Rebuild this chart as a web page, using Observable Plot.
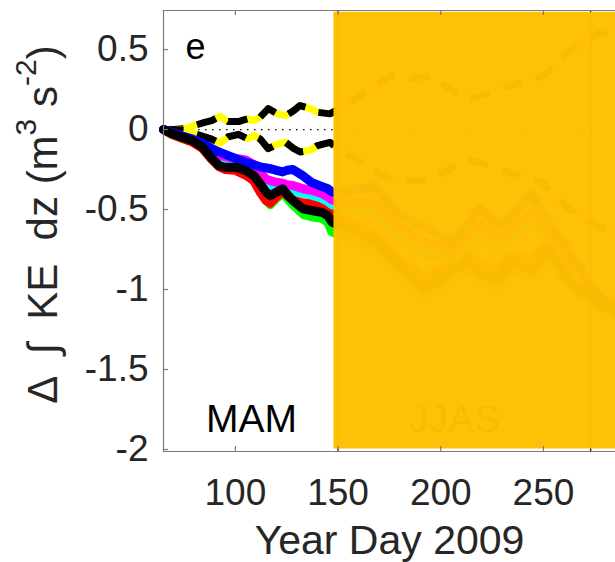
<!DOCTYPE html>
<html>
<head>
<meta charset="utf-8">
<script src="https://cdn.jsdelivr.net/npm/d3@7"></script>
<script src="https://cdn.jsdelivr.net/npm/@observablehq/plot@0.6"></script>
<style>
  html, body { margin: 0; padding: 0; background: #fff; }
  #chart svg { display: block; font-family: "Liberation Sans", Arial, Helvetica, sans-serif; }
</style>
</head>
<body>
<div id="chart"></div>
<script>
// ---------------- data ----------------
const days = [65, 69, 74, 79, 84, 88, 92, 95, 100, 105, 109, 112, 115, 117, 120, 123, 125, 128, 133, 137, 142, 145, 147,
              151, 160, 168, 179, 192, 206, 213, 219, 228, 234, 244, 252, 263, 276, 285];

const seriesBlack   = [0, -0.025, -0.048, -0.069, -0.11, -0.173, -0.225, -0.236, -0.236, -0.256, -0.288, -0.338, -0.392, -0.413, -0.392, -0.371, -0.402, -0.444, -0.496, -0.506, -0.517, -0.538, -0.579,
                       -0.6, -0.64, -0.71, -0.85, -1.0, -0.88, -0.82, -0.9, -0.94, -0.82, -0.88, -0.75, -0.95, -1.08, -1.14];
const seriesRed     = [0, -0.03, -0.055, -0.078, -0.118, -0.18, -0.232, -0.25, -0.255, -0.285, -0.32, -0.39, -0.445, -0.46, -0.42, -0.39, -0.41, -0.44, -0.46, -0.46, -0.47, -0.49, -0.52,
                       -0.55, -0.6, -0.66, -0.8, -0.93, -0.83, -0.78, -0.84, -0.88, -0.78, -0.83, -0.7, -0.9, -1.04, -1.1];
const seriesGreen   = [0, -0.03, -0.052, -0.075, -0.115, -0.178, -0.23, -0.24, -0.242, -0.265, -0.3, -0.37, -0.44, -0.47, -0.43, -0.395, -0.425, -0.47, -0.53, -0.545, -0.555, -0.58, -0.64,
                       -0.66, -0.7, -0.76, -0.9, -1.04, -0.93, -0.87, -0.94, -0.98, -0.87, -0.92, -0.8, -0.99, -1.1, -1.16];
const seriesCyan    = [0, -0.022, -0.045, -0.065, -0.1, -0.15, -0.19, -0.2, -0.21, -0.22, -0.25, -0.3, -0.34, -0.35, -0.355, -0.36, -0.37, -0.38, -0.4, -0.41, -0.43, -0.45, -0.47,
                       -0.48, -0.5, -0.53, -0.66, -0.78, -0.8, -0.72, -0.66, -0.75, -0.68, -0.6, -0.67, -0.87, -1.06, -1.14];
const seriesMagenta = [0, -0.02, -0.04, -0.06, -0.09, -0.13, -0.16, -0.17, -0.18, -0.19, -0.22, -0.27, -0.31, -0.32, -0.33, -0.335, -0.345, -0.35, -0.37, -0.38, -0.4, -0.42, -0.44,
                       -0.45, -0.45, -0.47, -0.6, -0.7, -0.76, -0.67, -0.58, -0.68, -0.62, -0.52, -0.63, -0.83, -1.05, -1.13];
const seriesBlue    = [0, -0.02, -0.04, -0.06, -0.085, -0.115, -0.14, -0.155, -0.18, -0.205, -0.22, -0.233, -0.24, -0.245, -0.255, -0.265, -0.255, -0.25, -0.29, -0.33, -0.355, -0.37, -0.39,
                       -0.4, -0.37, -0.36, -0.53, -0.61, -0.71, -0.6, -0.49, -0.6, -0.55, -0.4, -0.57, -0.78, -1.03, -1.15];

const envDays  = [65, 70, 75, 80, 85, 88.5, 92.5, 96.5, 101.5, 106, 109, 112, 116, 120.5, 124.5, 128.5, 131.5, 136.5, 140, 146,
                  152, 159.5, 168, 177, 186, 195, 204, 213, 222, 231, 240, 249, 256, 262, 270, 277, 285];
const envUpper = [0, 0, 0.006, 0.025, 0.045, 0.056, 0.083, 0.05, 0.05, 0.067, 0.056, 0.077, 0.131, 0.098, 0.087, 0.119, 0.15, 0.131, 0.108, 0.098,
                  0.14, 0.2, 0.28, 0.34, 0.32, 0.33, 0.26, 0.19, 0.22, 0.26, 0.3, 0.33, 0.4, 0.49, 0.55, 0.6, 0.62];
const envLower = [0, 0, -0.006, -0.025, -0.045, -0.06, -0.085, -0.045, -0.03, -0.058, -0.038, -0.058, -0.12, -0.09, -0.08, -0.12, -0.14, -0.13, -0.1, -0.08,
                  -0.14, -0.19, -0.26, -0.32, -0.32, -0.32, -0.25, -0.19, -0.22, -0.26, -0.3, -0.33, -0.42, -0.49, -0.56, -0.61, -0.63];

const seasonNames  = ["MAM", "JJAS"];
const seasonStart  = [65, 148];
const seasonEnd    = [148, 300];
const seasonBounds = [150, 273];

const xTicks = [100, 150, 200, 250];
const yTicks = [-2, -1.5, -1, -0.5, 0, 0.5];

// ---------------- layout ----------------
const W = 615, H = 562;
const mL = 163, mR = 0, mT = 10, mB = 111;
const xDom = [65, 285.1];
const yDom = [-2.0125, 0.744];
const pxY = (yDom[1] - yDom[0]) / (H - mT - mB); // data units per px (y)
const pxX = (xDom[1] - xDom[0]) / (W - mL - mR);  // data units per px (x)

const toRows = (xs, ys) => xs.map((d, i) => ({day: d, v: ys[i]}));

const lineOrder = [
  {values: seriesGreen,   color: "#00ff00"},
  {values: seriesRed,     color: "#ff0000"},
  {values: seriesCyan,    color: "#00ffff"},
  {values: seriesMagenta, color: "#ff00ff"},
  {values: seriesBlue,    color: "#0000ff"},
  {values: seriesBlack,   color: "#000000"}
];

const envUpperRows = toRows(envDays, envUpper);
const envLowerRows = toRows(envDays, envLower);

const lineStyle = {strokeWidth: 9, strokeLinejoin: "round", strokeLinecap: "round"};

const jj = seasonNames.indexOf("JJAS");
const shade = [{x1: seasonStart[jj], x2: seasonEnd[jj]}];

const frameGray = "#7a7a7a";
const textGray = "#262626";

const marks = [
  // zero reference
  Plot.ruleY([0], {stroke: "#000", strokeWidth: 1.3, strokeDasharray: "1.5,5.5"}),
  // spread envelopes (yellow with black dashes)
  Plot.line(envUpperRows, {x: "day", y: "v", stroke: "#ffff00", ...lineStyle, strokeWidth: 7}),
  Plot.line(envUpperRows, {x: "day", y: "v", stroke: "#000", ...lineStyle, strokeWidth: 7, strokeLinecap: "butt", strokeDasharray: "20,14"}),
  Plot.line(envLowerRows, {x: "day", y: "v", stroke: "#ffff00", ...lineStyle, strokeWidth: 7}),
  Plot.line(envLowerRows, {x: "day", y: "v", stroke: "#000", ...lineStyle, strokeWidth: 7, strokeLinecap: "butt", strokeDasharray: "20,14"}),
  // series
  ...lineOrder.map(s => Plot.line(toRows(days, s.values), {x: "day", y: "v", stroke: s.color, ...lineStyle})),
  // season boundaries & JJAS label (seen through the shading)
  Plot.ruleX(seasonBounds, {stroke: "#000", strokeWidth: 1.2}),
  Plot.text([seasonNames[jj]], {x: 206.7, y: -1.81, text: d => d, fill: "#000", fontSize: 39, lineAnchor: "middle"}),
  // JJAS shading
  Plot.rect(shade, {x1: "x1", x2: "x2", y1: yDom[0] + 2.5 * pxY, y2: yDom[1] - 1.8 * pxY, fill: "#ffbf00", fillOpacity: 0.978}),
  // annotations
  Plot.text([seasonNames[0]], {x: 107.9, y: -1.81, text: d => d, fill: "#000", fontSize: 39, lineAnchor: "middle"}),
  Plot.text(["e"], {x: 80.6, y: 0.515, text: d => d, fill: "#000", fontSize: 36, lineAnchor: "middle"}),
  // box
  Plot.ruleY([yDom[0], yDom[1]], {stroke: frameGray, strokeWidth: 1.2}),
  Plot.ruleX([xDom[0]], {stroke: frameGray, strokeWidth: 1.2}),
  // inward ticks
  Plot.ruleX(xTicks, {y1: yDom[0], y2: yDom[0] + 5 * pxY, stroke: frameGray, strokeWidth: 1.2}),
  Plot.ruleX(xTicks, {y1: yDom[1] - 5 * pxY, y2: yDom[1], stroke: frameGray, strokeWidth: 1.2}),
  Plot.ruleY(yTicks, {x1: xDom[0], x2: xDom[0] + 5 * pxX, stroke: frameGray, strokeWidth: 1.2}),
  // tick labels
  Plot.axisX(xTicks, {anchor: "bottom", tickSize: 0, tickPadding: 27, fontSize: 37, color: textGray, tickFormat: d => String(d), label: null}),
  Plot.axisY(yTicks, {anchor: "left", tickSize: 0, tickPadding: 15, fontSize: 37, color: textGray, tickFormat: d => String(d), label: null}),
  // x axis title
  Plot.text(["Year Day 2009"], {frameAnchor: "bottom", dy: 89, text: d => d, fill: textGray, fontSize: 41, lineAnchor: "middle"})
];

const chart = Plot.plot({
  width: W, height: H,
  marginLeft: mL, marginRight: mR, marginTop: mT, marginBottom: mB,
  style: {fontFamily: "'Liberation Sans', Arial, Helvetica, sans-serif", background: "#fff", overflow: "visible"},
  x: {domain: xDom, axis: null},
  y: {domain: yDom, axis: null},
  marks
});

// y-axis title with superscripts
const svg = d3.select(chart);
const yt = svg.append("text")
  .attr("transform", `translate(46,${(mT + (H - mB)) / 2 - 6}) rotate(-90)`)
  .attr("text-anchor", "middle")
  .attr("dominant-baseline", "middle")
  .attr("font-size", 42)
  .attr("fill", textGray)
  .attr("font-family", "'Liberation Sans', Arial, Helvetica, sans-serif")
  .style("white-space", "pre");
yt.append("tspan").text("\u0394  \u222B  KE  dz (m");
yt.append("tspan").attr("font-size", 30).attr("dy", -18).text("3");
yt.append("tspan").attr("dy", 18).text(" s");
yt.append("tspan").attr("font-size", 30).attr("dy", -18).text("-2");
yt.append("tspan").attr("dy", 18).text(")");

document.getElementById("chart").appendChild(chart);
</script>
</body>
</html>
